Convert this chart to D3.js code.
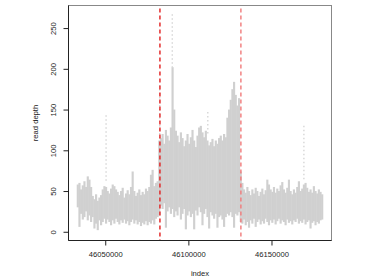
<!doctype html>
<html>
  <head>
    <meta charset="utf-8">
    <title>read depth</title>
    <script src="https://cdnjs.cloudflare.com/ajax/libs/d3/7.8.5/d3.min.js"></script>
    <style>
      body { margin: 0; background: #fff; }
      text { font-family: "Liberation Sans", Arial, sans-serif; fill: #222; }
    </style>
  </head>
  <body>
    <div id="chart"></div>
    <script>
    // bin centres (genome index), 1 kb apart
    const positions = [
      46033500,46034500,46035500,46036500,46037500,46038500,46039500,46040500,46041500,46042500,
      46043500,46044500,46045500,46046500,46047500,46048500,46049500,46050500,46051500,46052500,
      46053500,46054500,46055500,46056500,46057500,46058500,46059500,46060500,46061500,46062500,
      46063500,46064500,46065500,46066500,46067500,46068500,46069500,46070500,46071500,46072500,
      46073500,46074500,46075500,46076500,46077500,46078500,46079500,46080500,46081500,46082500,
      46083500,46084500,46085500,46086500,46087500,46088500,46089500,46090500,46091500,46092500,
      46093500,46094500,46095500,46096500,46097500,46098500,46099500,46100500,46101500,46102500,
      46103500,46104500,46105500,46106500,46107500,46108500,46109500,46110500,46111500,46112500,
      46113500,46114500,46115500,46116500,46117500,46118500,46119500,46120500,46121500,46122500,
      46123500,46124500,46125500,46126500,46127500,46128500,46129500,46130500,46131500,46132500,
      46133500,46134500,46135500,46136500,46137500,46138500,46139500,46140500,46141500,46142500,
      46143500,46144500,46145500,46146500,46147500,46148500,46149500,46150500,46151500,46152500,
      46153500,46154500,46155500,46156500,46157500,46158500,46159500,46160500,46161500,46162500,
      46163500,46164500,46165500,46166500,46167500,46168500,46169500,46170500,46171500,46172500,
      46173500,46174500,46175500,46176500,46177500,46178500,46179500,46180500
    ];

    // highest read depth in each bin
    const depthHigh = [
      58,60,52,57,62,55,68,64,55,44, 40,46,38,42,45,52,56,55,50,47,
      53,58,56,52,49,45,50,54,42,47, 51,46,55,74,50,44,48,52,45,49,
      46,53,50,55,70,76,56,60,62,112,
      115,120,108,125,118,112,128,202,150,124, 118,110,122,115,105,112,120,108,116,125,
      112,104,118,128,130,122,116,124,112,106, 110,114,105,112,108,115,118,112,120,116,
      140,150,162,175,184,168,155,164,
      74,60,52,48,55,50,45,52,47,54, 50,44,49,53,46,51,64,58,52,49,
      55,48,53,50,57,61,52,48,54,64, 50,46,52,48,55,62,50,53,58,60,
      54,49,52,48,56,50,47,52,49,46
    ];

    // lowest read depth in each bin
    const depthLow = [
      30,6,22,15,18,25,14,20,12,18, 4,10,2,14,8,12,16,10,15,12,
      8,14,10,16,12,9,14,11,15,10, 13,8,12,15,10,14,9,12,7,11,
      9,13,8,12,10,14,9,16,18,20,
      32,28,35,5,25,30,22,28,18,25, 20,30,15,22,28,3,20,25,18,22,
      3,26,20,30,24,8,22,28,18,4, 24,20,16,22,5,18,20,15,6,18,
      22,20,24,18,5,22,20,24,
      12,10,15,8,12,5,14,10,16,6, 12,15,9,13,10,16,12,8,14,11,
      15,9,13,16,10,14,12,8,15,11, 13,9,14,12,16,10,13,11,15,9,
      12,14,4,11,13,8,12,10,14,15
    ];

    // sparse outlying reads (drawn as dots)
    const spikePos = [46050500, 46082800, 46090300, 46111700, 46169500];
    const spikeFrom = [60, 112, 202, 120, 62];
    const spikeTo = [143, 180, 267, 147, 130];

    // region boundaries
    const cutPos = [46082900, 46131600];
    const cutColor = ['#e21d1d', '#f07a7a'];

    const xTicks = [46050000, 46100000, 46150000];
    const yTicks = [0, 50, 100, 150, 200, 250];

    const width = 374, height = 280;
    const pLeft = 68.5, pRight = 331.5, pTop = 5.5, pBottom = 240.5;

    const svg = d3.select('#chart')
      .append('svg')
      .attr('width', width)
      .attr('height', height);

    const x = d3.scaleLinear().domain([46027900, 46186100]).range([pLeft, pRight]);
    const y = d3.scaleLinear().domain([-10.7, 277.7]).range([pBottom, pTop]);

    const bins = positions.map((p, i) => ({ pos: p, hi: depthHigh[i], lo: depthLow[i] }));
    const binW = x(positions[1]) - x(positions[0]);

    // depth bands (a bit wider than a bin so no white seams show)
    svg.append('g')
      .selectAll('line')
      .data(bins)
      .join('line')
      .attr('x1', d => x(d.pos))
      .attr('x2', d => x(d.pos))
      .attr('y1', d => y(d.hi))
      .attr('y2', d => y(d.lo))
      .attr('stroke', '#d0d0d0')
      .attr('stroke-width', binW + 0.5);

    // outliers
    svg.append('g')
      .selectAll('line')
      .data(spikePos)
      .join('line')
      .attr('x1', d => x(d))
      .attr('x2', d => x(d))
      .attr('y1', (d, i) => y(spikeTo[i]))
      .attr('y2', (d, i) => y(spikeFrom[i]))
      .attr('stroke', '#cfcfcf')
      .attr('stroke-width', 1.2)
      .attr('stroke-dasharray', '1.5,2.5');

    // dashed cut lines
    svg.append('g')
      .selectAll('line')
      .data(cutPos)
      .join('line')
      .attr('x1', d => x(d))
      .attr('x2', d => x(d))
      .attr('y1', pTop + 3)
      .attr('y2', pBottom)
      .attr('stroke', (d, i) => cutColor[i])
      .attr('stroke-width', 1.4)
      .attr('stroke-dasharray', '4,3');

    // box
    svg.append('rect')
      .attr('x', pLeft).attr('y', pTop)
      .attr('width', pRight - pLeft).attr('height', pBottom - pTop)
      .attr('fill', 'none')
      .attr('stroke', '#888');

    // axes
    const xAxis = svg.append('g')
      .attr('transform', `translate(0,${pBottom})`)
      .call(d3.axisBottom(x).tickValues(xTicks).tickFormat(d3.format('d')).tickSize(5).tickPadding(6));
    const yAxis = svg.append('g')
      .attr('transform', `translate(${pLeft},0)`)
      .call(d3.axisLeft(y).tickValues(yTicks).tickSize(5));

    xAxis.select('.domain').attr('d', `M${pLeft},0H${pRight}`).attr('stroke', '#222');
    yAxis.select('.domain').attr('d', `M0,${pTop}V${pBottom}`).attr('stroke', '#222');
    svg.selectAll('.tick line').attr('stroke', '#222');
    xAxis.selectAll('text')
      .style('font-size', '7.6px')
      .attr('fill', '#222');

    // y labels are turned like in R
    yAxis.selectAll('.tick text')
      .attr('x', null)
      .attr('text-anchor', 'middle')
      .attr('transform', 'translate(-12.8,0) rotate(-90)')
      .attr('dy', '0')
      .style('font-size', '7.6px')
      .attr('fill', '#222');

    svg.append('text')
      .attr('x', (pLeft + pRight) / 2).attr('y', 275.5)
      .attr('text-anchor', 'middle')
      .style('font-size', '7.6px')
      .text('index');

    svg.append('text')
      .attr('transform', `translate(37.5,${(pTop + pBottom) / 2}) rotate(-90)`)
      .attr('text-anchor', 'middle')
      .style('font-size', '7.6px')
      .text('read depth');
    </script>
  </body>
</html>
